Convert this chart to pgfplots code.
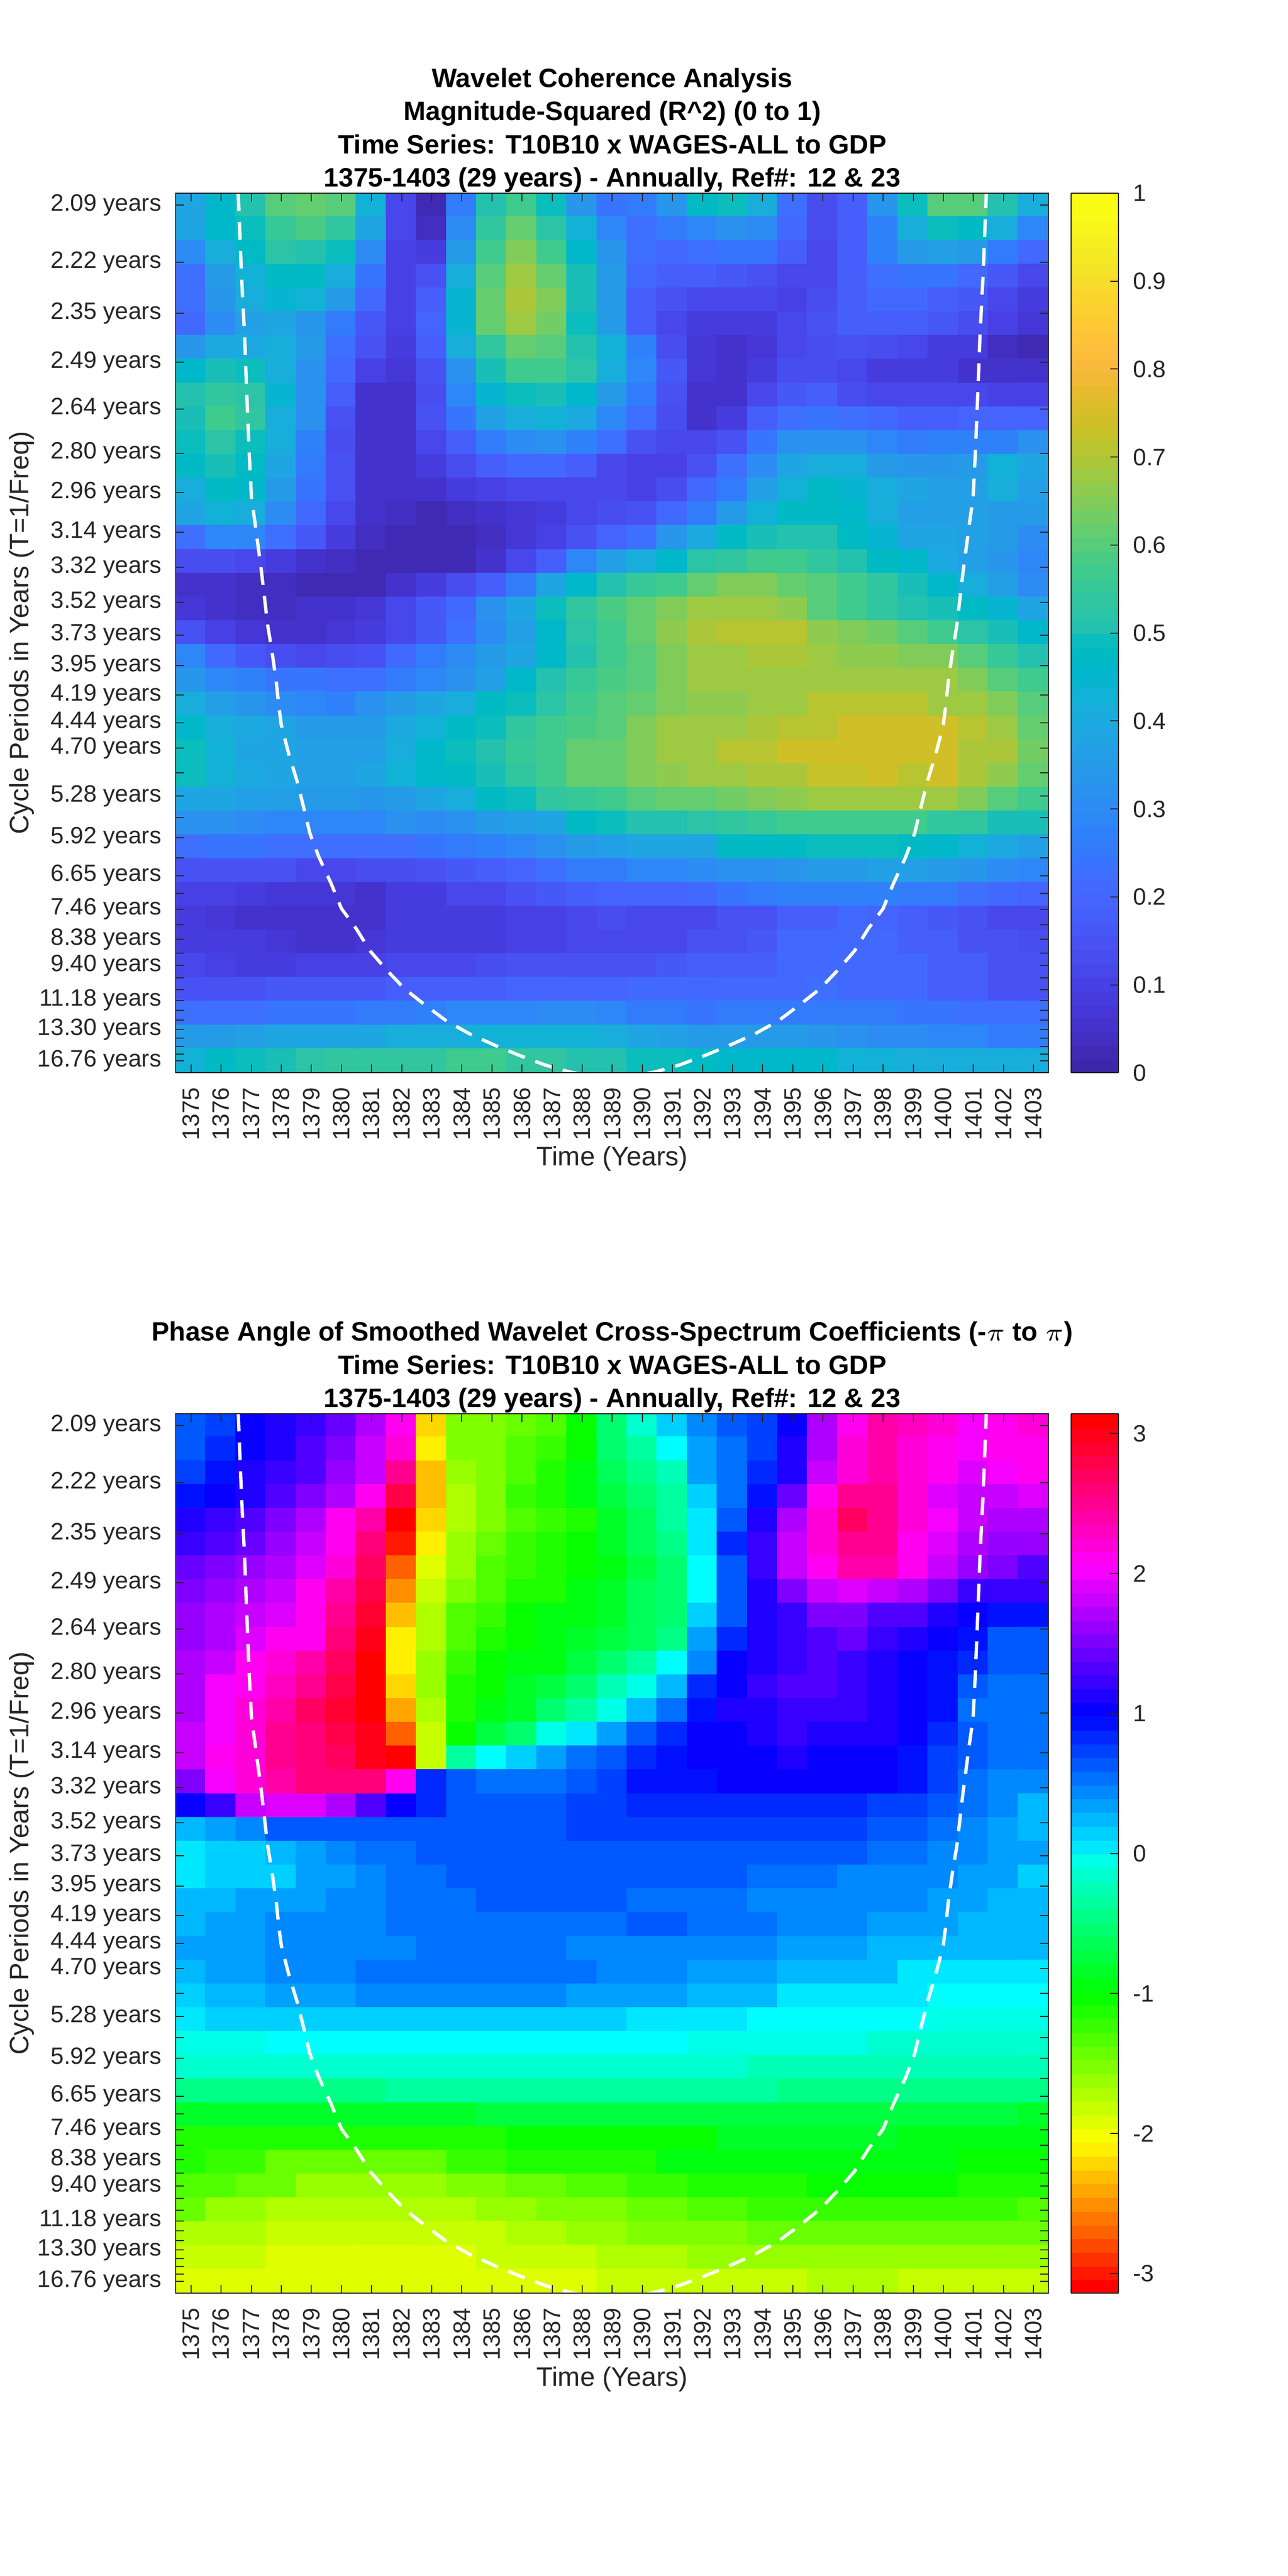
\documentclass[border=0pt]{standalone}
\usepackage{fontspec}
\setmainfont{Liberation Sans}
\usepackage{pgfplots}
\usepackage{pgfplotstable}
\pgfplotsset{compat=1.18}
\definecolor{axgray}{rgb}{0.15,0.15,0.15}

% magnitude-squared coherence, one line per period (2.09 ... 16.76), 1375 ... 1403
\pgfplotstableread[row sep=\\,header=false]{
0.38\\0.46\\0.52\\0.60\\0.63\\0.60\\0.42\\0.12\\0.03\\0.26\\0.52\\0.57\\0.48\\0.33\\0.24\\0.25\\0.33\\0.47\\0.48\\0.40\\0.22\\0.13\\0.17\\0.33\\0.48\\0.60\\0.60\\0.52\\0.40\\
0.37\\0.45\\0.49\\0.56\\0.59\\0.54\\0.37\\0.11\\0.04\\0.30\\0.55\\0.63\\0.53\\0.42\\0.28\\0.22\\0.25\\0.29\\0.32\\0.30\\0.20\\0.13\\0.17\\0.27\\0.40\\0.49\\0.47\\0.40\\0.29\\
0.30\\0.40\\0.47\\0.53\\0.52\\0.48\\0.30\\0.10\\0.08\\0.34\\0.58\\0.66\\0.58\\0.46\\0.33\\0.22\\0.21\\0.22\\0.24\\0.24\\0.17\\0.12\\0.17\\0.27\\0.34\\0.36\\0.34\\0.26\\0.20\\
0.23\\0.35\\0.43\\0.47\\0.47\\0.40\\0.24\\0.10\\0.15\\0.40\\0.60\\0.68\\0.63\\0.50\\0.35\\0.20\\0.17\\0.17\\0.16\\0.15\\0.12\\0.11\\0.18\\0.22\\0.24\\0.24\\0.20\\0.16\\0.12\\
0.22\\0.33\\0.40\\0.44\\0.42\\0.35\\0.21\\0.10\\0.17\\0.44\\0.62\\0.70\\0.65\\0.50\\0.34\\0.18\\0.14\\0.11\\0.11\\0.11\\0.10\\0.13\\0.18\\0.20\\0.20\\0.18\\0.16\\0.12\\0.09\\
0.21\\0.30\\0.36\\0.37\\0.33\\0.26\\0.16\\0.10\\0.19\\0.44\\0.62\\0.68\\0.64\\0.49\\0.34\\0.17\\0.11\\0.09\\0.08\\0.09\\0.11\\0.14\\0.18\\0.18\\0.17\\0.16\\0.13\\0.10\\0.07\\
0.33\\0.39\\0.39\\0.40\\0.34\\0.22\\0.14\\0.09\\0.18\\0.41\\0.55\\0.63\\0.60\\0.52\\0.42\\0.27\\0.13\\0.07\\0.06\\0.07\\0.11\\0.13\\0.15\\0.13\\0.12\\0.09\\0.08\\0.04\\0.02\\
0.46\\0.50\\0.49\\0.41\\0.32\\0.21\\0.10\\0.07\\0.15\\0.32\\0.50\\0.57\\0.57\\0.53\\0.40\\0.28\\0.16\\0.07\\0.05\\0.08\\0.13\\0.13\\0.12\\0.09\\0.09\\0.09\\0.06\\0.05\\0.05\\
0.51\\0.54\\0.53\\0.44\\0.31\\0.17\\0.06\\0.06\\0.13\\0.28\\0.44\\0.49\\0.50\\0.45\\0.34\\0.25\\0.14\\0.05\\0.05\\0.11\\0.16\\0.17\\0.13\\0.12\\0.12\\0.12\\0.12\\0.10\\0.10\\
0.50\\0.57\\0.54\\0.41\\0.31\\0.15\\0.06\\0.05\\0.14\\0.24\\0.36\\0.41\\0.42\\0.39\\0.29\\0.23\\0.13\\0.06\\0.09\\0.17\\0.23\\0.24\\0.23\\0.20\\0.18\\0.17\\0.19\\0.19\\0.19\\
0.48\\0.53\\0.48\\0.40\\0.27\\0.13\\0.05\\0.05\\0.11\\0.18\\0.26\\0.30\\0.31\\0.27\\0.22\\0.14\\0.11\\0.11\\0.15\\0.24\\0.31\\0.32\\0.31\\0.28\\0.25\\0.27\\0.27\\0.27\\0.31\\
0.47\\0.50\\0.47\\0.38\\0.26\\0.14\\0.05\\0.05\\0.08\\0.13\\0.18\\0.20\\0.20\\0.17\\0.12\\0.10\\0.10\\0.14\\0.22\\0.30\\0.38\\0.41\\0.40\\0.35\\0.33\\0.33\\0.34\\0.42\\0.38\\
0.41\\0.47\\0.45\\0.34\\0.24\\0.14\\0.06\\0.06\\0.06\\0.08\\0.10\\0.11\\0.12\\0.12\\0.12\\0.10\\0.13\\0.20\\0.26\\0.36\\0.43\\0.47\\0.44\\0.40\\0.38\\0.36\\0.36\\0.40\\0.36\\
0.37\\0.42\\0.40\\0.30\\0.21\\0.12\\0.05\\0.04\\0.03\\0.04\\0.05\\0.07\\0.09\\0.12\\0.13\\0.15\\0.21\\0.26\\0.34\\0.42\\0.47\\0.47\\0.45\\0.41\\0.36\\0.36\\0.36\\0.35\\0.34\\
0.23\\0.29\\0.28\\0.22\\0.16\\0.09\\0.04\\0.02\\0.02\\0.02\\0.04\\0.07\\0.10\\0.14\\0.19\\0.23\\0.33\\0.39\\0.47\\0.50\\0.52\\0.52\\0.47\\0.44\\0.38\\0.37\\0.36\\0.34\\0.30\\
0.13\\0.13\\0.12\\0.08\\0.05\\0.04\\0.02\\0.02\\0.02\\0.03\\0.05\\0.11\\0.18\\0.29\\0.36\\0.40\\0.46\\0.53\\0.55\\0.58\\0.58\\0.55\\0.52\\0.47\\0.45\\0.39\\0.36\\0.33\\0.28\\
0.06\\0.05\\0.04\\0.04\\0.02\\0.02\\0.03\\0.05\\0.08\\0.13\\0.18\\0.25\\0.37\\0.46\\0.52\\0.56\\0.58\\0.63\\0.66\\0.66\\0.62\\0.60\\0.57\\0.54\\0.50\\0.46\\0.40\\0.36\\0.30\\
0.07\\0.05\\0.04\\0.04\\0.05\\0.06\\0.07\\0.12\\0.16\\0.21\\0.31\\0.38\\0.48\\0.54\\0.59\\0.62\\0.66\\0.69\\0.69\\0.68\\0.67\\0.61\\0.58\\0.54\\0.52\\0.50\\0.47\\0.44\\0.38\\
0.14\\0.10\\0.07\\0.05\\0.05\\0.07\\0.08\\0.11\\0.16\\0.23\\0.30\\0.36\\0.46\\0.53\\0.58\\0.62\\0.67\\0.70\\0.71\\0.71\\0.71\\0.67\\0.66\\0.64\\0.60\\0.57\\0.53\\0.50\\0.45\\
0.28\\0.20\\0.16\\0.13\\0.12\\0.13\\0.15\\0.20\\0.25\\0.30\\0.34\\0.38\\0.46\\0.52\\0.57\\0.60\\0.66\\0.68\\0.68\\0.70\\0.70\\0.69\\0.67\\0.67\\0.66\\0.65\\0.60\\0.56\\0.52\\
0.33\\0.29\\0.27\\0.24\\0.24\\0.23\\0.22\\0.26\\0.29\\0.32\\0.36\\0.46\\0.52\\0.56\\0.59\\0.60\\0.65\\0.68\\0.69\\0.69\\0.69\\0.68\\0.68\\0.68\\0.68\\0.68\\0.66\\0.60\\0.57\\
0.40\\0.36\\0.33\\0.30\\0.28\\0.27\\0.32\\0.35\\0.37\\0.41\\0.47\\0.49\\0.53\\0.58\\0.60\\0.63\\0.66\\0.67\\0.67\\0.68\\0.68\\0.71\\0.71\\0.72\\0.72\\0.69\\0.68\\0.66\\0.60\\
0.45\\0.41\\0.39\\0.37\\0.35\\0.34\\0.34\\0.39\\0.42\\0.47\\0.49\\0.54\\0.57\\0.59\\0.61\\0.65\\0.68\\0.68\\0.69\\0.70\\0.72\\0.72\\0.74\\0.74\\0.74\\0.74\\0.71\\0.69\\0.63\\
0.49\\0.42\\0.38\\0.37\\0.36\\0.36\\0.36\\0.41\\0.45\\0.48\\0.52\\0.56\\0.58\\0.62\\0.63\\0.66\\0.68\\0.69\\0.71\\0.72\\0.74\\0.74\\0.75\\0.75\\0.75\\0.75\\0.70\\0.70\\0.64\\
0.49\\0.42\\0.39\\0.37\\0.36\\0.36\\0.38\\0.42\\0.45\\0.47\\0.50\\0.55\\0.58\\0.62\\0.62\\0.66\\0.67\\0.68\\0.69\\0.70\\0.70\\0.73\\0.73\\0.75\\0.72\\0.74\\0.70\\0.67\\0.63\\
0.38\\0.37\\0.36\\0.36\\0.35\\0.34\\0.33\\0.35\\0.37\\0.40\\0.47\\0.49\\0.54\\0.56\\0.58\\0.60\\0.62\\0.62\\0.64\\0.66\\0.67\\0.68\\0.69\\0.69\\0.69\\0.68\\0.66\\0.60\\0.57\\
0.32\\0.31\\0.30\\0.29\\0.29\\0.29\\0.29\\0.31\\0.30\\0.32\\0.35\\0.36\\0.38\\0.47\\0.49\\0.51\\0.52\\0.53\\0.55\\0.56\\0.58\\0.58\\0.58\\0.58\\0.57\\0.55\\0.54\\0.50\\0.50\\
0.23\\0.24\\0.24\\0.22\\0.22\\0.22\\0.23\\0.23\\0.24\\0.26\\0.27\\0.28\\0.31\\0.34\\0.36\\0.37\\0.37\\0.38\\0.47\\0.47\\0.47\\0.48\\0.49\\0.49\\0.47\\0.46\\0.42\\0.39\\0.36\\
0.15\\0.14\\0.14\\0.14\\0.12\\0.12\\0.13\\0.13\\0.15\\0.16\\0.17\\0.19\\0.22\\0.25\\0.26\\0.28\\0.29\\0.30\\0.31\\0.32\\0.33\\0.34\\0.35\\0.36\\0.36\\0.35\\0.33\\0.30\\0.28\\
0.10\\0.10\\0.08\\0.07\\0.07\\0.07\\0.06\\0.08\\0.08\\0.11\\0.12\\0.14\\0.16\\0.18\\0.19\\0.19\\0.19\\0.21\\0.24\\0.26\\0.27\\0.27\\0.27\\0.27\\0.26\\0.25\\0.23\\0.21\\0.19\\
0.09\\0.07\\0.06\\0.06\\0.05\\0.05\\0.06\\0.08\\0.09\\0.09\\0.09\\0.10\\0.10\\0.12\\0.13\\0.12\\0.11\\0.12\\0.14\\0.15\\0.18\\0.18\\0.20\\0.19\\0.18\\0.16\\0.14\\0.12\\0.11\\
0.09\\0.08\\0.08\\0.07\\0.06\\0.06\\0.07\\0.08\\0.09\\0.09\\0.09\\0.10\\0.10\\0.11\\0.11\\0.12\\0.11\\0.14\\0.15\\0.16\\0.20\\0.20\\0.20\\0.20\\0.18\\0.17\\0.15\\0.14\\0.13\\
0.11\\0.10\\0.09\\0.09\\0.10\\0.10\\0.10\\0.11\\0.12\\0.12\\0.13\\0.14\\0.14\\0.14\\0.15\\0.15\\0.16\\0.17\\0.17\\0.17\\0.20\\0.20\\0.20\\0.20\\0.20\\0.18\\0.17\\0.14\\0.14\\
0.14\\0.14\\0.14\\0.16\\0.16\\0.16\\0.16\\0.17\\0.18\\0.18\\0.18\\0.19\\0.19\\0.19\\0.19\\0.20\\0.20\\0.21\\0.21\\0.21\\0.21\\0.22\\0.21\\0.21\\0.21\\0.18\\0.17\\0.15\\0.15\\
0.22\\0.22\\0.23\\0.24\\0.24\\0.24\\0.25\\0.26\\0.27\\0.28\\0.29\\0.29\\0.30\\0.30\\0.28\\0.26\\0.25\\0.24\\0.25\\0.25\\0.26\\0.26\\0.26\\0.25\\0.24\\0.24\\0.23\\0.22\\0.22\\
0.34\\0.35\\0.36\\0.38\\0.38\\0.38\\0.38\\0.40\\0.41\\0.41\\0.42\\0.42\\0.42\\0.42\\0.41\\0.38\\0.36\\0.35\\0.35\\0.35\\0.34\\0.33\\0.31\\0.30\\0.30\\0.29\\0.29\\0.26\\0.26\\
0.43\\0.47\\0.48\\0.50\\0.53\\0.55\\0.55\\0.55\\0.55\\0.57\\0.57\\0.55\\0.54\\0.52\\0.52\\0.49\\0.49\\0.47\\0.46\\0.46\\0.46\\0.45\\0.43\\0.42\\0.41\\0.40\\0.40\\0.40\\0.40\\
}\coherence

% phase angle, same layout
\pgfplotstableread[row sep=\\,header=false]{
0.63\\0.80\\1.05\\1.20\\1.27\\1.46\\1.75\\2.09\\-2.20\\-1.57\\-1.57\\-1.46\\-1.36\\-1.05\\-0.62\\-0.20\\0.23\\0.47\\0.63\\0.80\\1.05\\1.75\\2.15\\2.45\\2.33\\2.20\\2.05\\2.15\\2.20\\
0.66\\0.84\\1.05\\1.20\\1.33\\1.55\\1.82\\2.20\\-2.09\\-1.57\\-1.50\\-1.40\\-1.30\\-1.05\\-0.60\\-0.36\\0.00\\0.37\\0.60\\0.77\\1.12\\1.72\\2.20\\2.38\\2.25\\2.15\\2.00\\2.10\\2.15\\
0.80\\0.97\\1.13\\1.25\\1.40\\1.60\\1.88\\2.55\\-2.30\\-1.62\\-1.55\\-1.35\\-1.20\\-1.00\\-0.70\\-0.45\\-0.28\\0.40\\0.62\\0.90\\1.20\\1.85\\2.20\\2.38\\2.25\\2.10\\1.95\\2.00\\2.10\\
1.00\\1.05\\1.20\\1.38\\1.55\\1.75\\2.15\\2.85\\-2.30\\-1.76\\-1.55\\-1.30\\-1.20\\-0.95\\-0.75\\-0.55\\-0.35\\0.22\\0.58\\1.00\\1.45\\2.15\\2.55\\2.55\\2.20\\1.95\\1.85\\1.85\\1.95\\
1.17\\1.27\\1.40\\1.55\\1.75\\2.10\\2.45\\3.14\\-2.25\\-1.76\\-1.50\\-1.35\\-1.25\\-1.15\\-0.85\\-0.65\\-0.40\\0.12\\0.72\\1.20\\1.75\\2.25\\2.72\\2.50\\2.20\\2.00\\1.80\\1.75\\1.75\\
1.30\\1.37\\1.45\\1.65\\1.80\\2.10\\2.65\\-3.00\\-2.10\\-1.65\\-1.45\\-1.30\\-1.20\\-1.05\\-0.90\\-0.65\\-0.50\\0.12\\0.85\\1.30\\1.80\\2.20\\2.55\\2.55\\2.15\\1.95\\1.70\\1.60\\1.65\\
1.45\\1.50\\1.60\\1.72\\1.95\\2.25\\2.75\\-2.74\\-1.95\\-1.60\\-1.40\\-1.30\\-1.20\\-1.10\\-0.95\\-0.75\\-0.60\\0.00\\0.65\\1.30\\1.85\\2.15\\2.45\\2.40\\2.15\\1.85\\1.60\\1.50\\1.35\\
1.55\\1.60\\1.70\\1.80\\2.10\\2.40\\2.80\\-2.55\\-1.85\\-1.55\\-1.35\\-1.20\\-1.15\\-1.00\\-0.90\\-0.70\\-0.62\\0.00\\0.65\\1.20\\1.55\\1.82\\1.98\\1.85\\1.75\\1.50\\1.30\\1.25\\1.25\\
1.60\\1.72\\1.85\\1.95\\2.15\\2.55\\2.90\\-2.35\\-1.72\\-1.40\\-1.25\\-1.10\\-1.00\\-0.92\\-0.85\\-0.70\\-0.55\\0.15\\0.65\\1.15\\1.30\\1.50\\1.55\\1.40\\1.35\\1.15\\1.05\\1.00\\1.00\\
1.60\\1.75\\1.92\\2.09\\2.15\\2.60\\3.00\\-2.15\\-1.72\\-1.33\\-1.15\\-1.05\\-1.00\\-0.90\\-0.80\\-0.70\\-0.45\\0.37\\0.85\\1.15\\1.30\\1.40\\1.42\\1.30\\1.20\\1.03\\0.95\\0.72\\0.72\\
1.75\\1.85\\2.09\\2.25\\2.45\\2.75\\3.05\\-2.10\\-1.66\\-1.25\\-1.10\\-1.00\\-0.95\\-0.75\\-0.55\\-0.35\\0.00\\0.48\\1.05\\1.18\\1.25\\1.35\\1.25\\1.17\\1.07\\0.95\\0.85\\0.65\\0.65\\
1.78\\2.00\\2.15\\2.35\\2.55\\2.85\\3.14\\-2.20\\-1.60\\-1.20\\-1.05\\-0.90\\-0.80\\-0.55\\-0.25\\-0.10\\0.33\\0.85\\1.05\\1.30\\1.35\\1.38\\1.27\\1.20\\1.05\\0.95\\0.63\\0.60\\0.60\\
1.78\\2.00\\2.20\\2.45\\2.70\\2.90\\3.10\\-2.45\\-1.70\\-1.12\\-1.00\\-0.85\\-0.60\\-0.35\\-0.05\\0.32\\0.62\\1.00\\1.12\\1.20\\1.28\\1.28\\1.25\\1.20\\1.05\\0.95\\0.62\\0.60\\0.60\\
1.80\\2.00\\2.25\\2.50\\2.65\\2.80\\3.00\\-2.74\\-1.85\\-1.05\\-0.80\\-0.55\\-0.10\\0.10\\0.35\\0.70\\0.85\\1.10\\1.10\\1.20\\1.22\\1.20\\1.17\\1.15\\1.05\\0.85\\0.67\\0.60\\0.60\\
1.80\\2.10\\2.25\\2.55\\2.60\\2.75\\2.95\\3.05\\-1.85\\-0.40\\-0.02\\0.20\\0.40\\0.55\\0.70\\0.85\\0.95\\1.05\\1.10\\1.10\\1.20\\1.10\\1.07\\1.05\\1.00\\0.80\\0.65\\0.60\\0.60\\
1.55\\2.05\\2.20\\2.40\\2.60\\2.65\\2.65\\2.10\\0.90\\0.65\\0.55\\0.55\\0.60\\0.70\\0.82\\0.95\\0.97\\0.97\\1.03\\1.03\\1.05\\1.03\\1.03\\1.03\\0.95\\0.80\\0.58\\0.50\\0.50\\
1.05\\1.30\\1.80\\1.98\\1.98\\1.75\\1.40\\1.05\\0.85\\0.72\\0.72\\0.72\\0.72\\0.78\\0.78\\0.85\\0.87\\0.90\\0.90\\0.90\\0.90\\0.90\\0.90\\0.78\\0.78\\0.72\\0.60\\0.50\\0.33\\
0.32\\0.42\\0.50\\0.63\\0.72\\0.72\\0.72\\0.72\\0.72\\0.72\\0.72\\0.72\\0.72\\0.78\\0.78\\0.78\\0.78\\0.78\\0.78\\0.78\\0.78\\0.78\\0.78\\0.70\\0.70\\0.60\\0.50\\0.42\\0.30\\
0.12\\0.20\\0.20\\0.25\\0.35\\0.45\\0.60\\0.60\\0.72\\0.72\\0.72\\0.72\\0.72\\0.72\\0.72\\0.72\\0.72\\0.72\\0.72\\0.72\\0.72\\0.72\\0.72\\0.62\\0.62\\0.52\\0.45\\0.37\\0.37\\
0.12\\0.20\\0.20\\0.22\\0.38\\0.38\\0.52\\0.62\\0.62\\0.72\\0.72\\0.72\\0.72\\0.72\\0.72\\0.72\\0.72\\0.72\\0.72\\0.62\\0.62\\0.62\\0.52\\0.52\\0.52\\0.48\\0.42\\0.38\\0.20\\
0.25\\0.25\\0.35\\0.35\\0.42\\0.52\\0.52\\0.62\\0.62\\0.62\\0.72\\0.72\\0.72\\0.72\\0.72\\0.62\\0.62\\0.62\\0.62\\0.52\\0.52\\0.52\\0.45\\0.45\\0.45\\0.38\\0.38\\0.30\\0.25\\
0.25\\0.38\\0.38\\0.50\\0.50\\0.52\\0.52\\0.62\\0.62\\0.62\\0.62\\0.62\\0.62\\0.62\\0.62\\0.65\\0.68\\0.55\\0.55\\0.55\\0.45\\0.45\\0.45\\0.36\\0.36\\0.36\\0.27\\0.27\\0.27\\
0.38\\0.38\\0.38\\0.45\\0.45\\0.52\\0.52\\0.52\\0.62\\0.62\\0.62\\0.62\\0.62\\0.52\\0.52\\0.52\\0.52\\0.50\\0.50\\0.50\\0.40\\0.40\\0.40\\0.27\\0.27\\0.27\\0.27\\0.27\\0.27\\
0.33\\0.38\\0.38\\0.48\\0.48\\0.48\\0.55\\0.55\\0.55\\0.55\\0.55\\0.55\\0.55\\0.55\\0.45\\0.45\\0.45\\0.40\\0.40\\0.40\\0.25\\0.25\\0.25\\0.25\\0.12\\0.12\\0.12\\0.12\\0.12\\
0.22\\0.30\\0.30\\0.42\\0.42\\0.42\\0.50\\0.50\\0.50\\0.50\\0.50\\0.50\\0.50\\0.42\\0.42\\0.42\\0.42\\0.32\\0.32\\0.32\\0.10\\0.10\\0.10\\0.10\\0.10\\0.00\\0.00\\0.00\\0.00\\
0.05\\0.17\\0.17\\0.17\\0.22\\0.22\\0.22\\0.22\\0.22\\0.22\\0.22\\0.22\\0.22\\0.22\\0.22\\0.12\\0.12\\0.12\\0.12\\0.00\\0.00\\0.00\\0.00\\0.00\\0.00\\-0.12\\-0.12\\-0.12\\-0.12\\
-0.10\\-0.10\\-0.10\\0.00\\0.00\\0.00\\0.00\\0.00\\0.00\\0.00\\0.00\\0.00\\0.00\\0.00\\0.00\\0.00\\0.00\\-0.10\\-0.10\\-0.10\\-0.10\\-0.10\\-0.10\\-0.20\\-0.20\\-0.20\\-0.20\\-0.20\\-0.20\\
-0.20\\-0.20\\-0.20\\-0.15\\-0.15\\-0.15\\-0.15\\-0.15\\-0.15\\-0.15\\-0.15\\-0.15\\-0.15\\-0.15\\-0.15\\-0.15\\-0.18\\-0.18\\-0.18\\-0.30\\-0.30\\-0.30\\-0.30\\-0.30\\-0.30\\-0.30\\-0.30\\-0.30\\-0.30\\
-0.50\\-0.50\\-0.50\\-0.50\\-0.50\\-0.50\\-0.50\\-0.43\\-0.43\\-0.43\\-0.43\\-0.43\\-0.43\\-0.43\\-0.43\\-0.43\\-0.43\\-0.43\\-0.43\\-0.43\\-0.52\\-0.52\\-0.52\\-0.52\\-0.52\\-0.52\\-0.52\\-0.52\\-0.52\\
-0.85\\-0.85\\-0.85\\-0.85\\-0.85\\-0.85\\-0.85\\-0.85\\-0.85\\-0.85\\-0.78\\-0.78\\-0.78\\-0.78\\-0.78\\-0.78\\-0.76\\-0.76\\-0.76\\-0.76\\-0.76\\-0.76\\-0.76\\-0.76\\-0.76\\-0.76\\-0.76\\-0.76\\-0.85\\
-1.18\\-1.20\\-1.20\\-1.20\\-1.20\\-1.20\\-1.20\\-1.20\\-1.12\\-1.12\\-1.12\\-1.05\\-1.05\\-1.05\\-1.05\\-1.05\\-1.02\\-1.02\\-0.90\\-0.90\\-0.90\\-0.90\\-0.90\\-0.90\\-0.98\\-0.98\\-0.98\\-0.98\\-0.98\\
-1.18\\-1.30\\-1.30\\-1.42\\-1.42\\-1.42\\-1.42\\-1.42\\-1.42\\-1.30\\-1.30\\-1.20\\-1.20\\-1.12\\-1.12\\-1.12\\-1.00\\-1.00\\-1.00\\-1.00\\-1.00\\-1.00\\-1.00\\-1.00\\-1.00\\-1.00\\-1.02\\-1.02\\-1.02\\
-1.37\\-1.37\\-1.47\\-1.47\\-1.62\\-1.62\\-1.62\\-1.62\\-1.62\\-1.52\\-1.52\\-1.42\\-1.42\\-1.33\\-1.33\\-1.22\\-1.22\\-1.15\\-1.15\\-1.15\\-1.15\\-1.05\\-1.05\\-1.05\\-1.05\\-1.05\\-1.12\\-1.12\\-1.12\\
-1.42\\-1.60\\-1.60\\-1.75\\-1.75\\-1.75\\-1.75\\-1.75\\-1.75\\-1.75\\-1.60\\-1.60\\-1.52\\-1.52\\-1.52\\-1.42\\-1.42\\-1.33\\-1.33\\-1.22\\-1.22\\-1.22\\-1.22\\-1.22\\-1.22\\-1.22\\-1.22\\-1.22\\-1.40\\
-1.70\\-1.70\\-1.70\\-1.85\\-1.85\\-1.85\\-1.85\\-1.85\\-1.85\\-1.85\\-1.85\\-1.75\\-1.75\\-1.62\\-1.62\\-1.55\\-1.55\\-1.55\\-1.55\\-1.42\\-1.42\\-1.42\\-1.42\\-1.42\\-1.42\\-1.42\\-1.42\\-1.42\\-1.42\\
-1.80\\-1.80\\-1.80\\-1.97\\-1.97\\-1.97\\-1.97\\-1.97\\-1.97\\-1.97\\-1.82\\-1.82\\-1.82\\-1.82\\-1.73\\-1.73\\-1.78\\-1.62\\-1.62\\-1.62\\-1.62\\-1.62\\-1.62\\-1.62\\-1.62\\-1.62\\-1.62\\-1.62\\-1.62\\
-1.97\\-1.97\\-1.97\\-1.97\\-1.97\\-1.97\\-1.97\\-1.97\\-1.97\\-1.97\\-1.97\\-1.97\\-1.97\\-1.97\\-1.85\\-1.85\\-1.86\\-1.86\\-1.86\\-1.86\\-1.86\\-1.75\\-1.75\\-1.75\\-1.80\\-1.80\\-1.80\\-1.80\\-1.80\\
}\phaseangle

% cone of influence
\pgfplotstableread{
x f
1376.57 0.4843
1376.68 0.4436
1376.78 0.4148
1376.85 0.3877
1376.94 0.3553
1377.01 0.3355
1377.13 0.3228
1377.34 0.2994
1377.55 0.2728
1377.69 0.2603
1377.83 0.2458
1377.92 0.2333
1378.00 0.2242
1378.25 0.2099
1378.53 0.1964
1378.76 0.1829
1378.95 0.1712
1379.25 0.1595
1379.65 0.1468
1380.00 0.1343
1380.49 0.1245
1380.95 0.1136
1381.51 0.1041
1382.10 0.0950
1382.79 0.0870
1383.49 0.0793
1384.26 0.0730
1385.10 0.0674
1385.94 0.0623
1386.78 0.0577
1387.55 0.0545
1389.00 0.0500
1390.45 0.0545
1391.22 0.0577
1392.06 0.0623
1392.90 0.0674
1393.74 0.0730
1394.51 0.0793
1395.21 0.0870
1395.90 0.0950
1396.49 0.1041
1397.05 0.1136
1397.51 0.1245
1398.00 0.1343
1398.35 0.1468
1398.75 0.1595
1399.05 0.1712
1399.24 0.1829
1399.47 0.1964
1399.75 0.2099
1400.00 0.2242
1400.08 0.2333
1400.17 0.2458
1400.31 0.2603
1400.45 0.2728
1400.66 0.2994
1400.87 0.3228
1400.99 0.3355
1401.06 0.3553
1401.15 0.3877
1401.22 0.4148
1401.32 0.4436
1401.43 0.4843
}\coi

\pgfplotsset{
  colormap={parula64}{
    rgb=(0.2422,0.1504,0.6603) rgb=(0.2504,0.1650,0.7076) rgb=(0.2578,0.1818,0.7511) rgb=(0.2647,0.1978,0.7952)
    rgb=(0.2706,0.2147,0.8364) rgb=(0.2751,0.2342,0.8710) rgb=(0.2783,0.2559,0.8991) rgb=(0.2803,0.2782,0.9221)
    rgb=(0.2813,0.3006,0.9414) rgb=(0.2810,0.3228,0.9579) rgb=(0.2795,0.3447,0.9717) rgb=(0.2760,0.3667,0.9829)
    rgb=(0.2699,0.3892,0.9906) rgb=(0.2602,0.4123,0.9952) rgb=(0.2440,0.4358,0.9988) rgb=(0.2206,0.4603,0.9973)
    rgb=(0.1963,0.4847,0.9892) rgb=(0.1834,0.5074,0.9798) rgb=(0.1786,0.5289,0.9682) rgb=(0.1764,0.5499,0.9520)
    rgb=(0.1687,0.5703,0.9359) rgb=(0.1540,0.5902,0.9218) rgb=(0.1460,0.6091,0.9079) rgb=(0.1380,0.6276,0.8973)
    rgb=(0.1248,0.6459,0.8883) rgb=(0.1113,0.6635,0.8763) rgb=(0.0952,0.6798,0.8598) rgb=(0.0689,0.6948,0.8394)
    rgb=(0.0297,0.7082,0.8163) rgb=(0.0036,0.7203,0.7917) rgb=(0.0067,0.7312,0.7660) rgb=(0.0433,0.7411,0.7394)
    rgb=(0.0964,0.7500,0.7120) rgb=(0.1408,0.7584,0.6842) rgb=(0.1717,0.7670,0.6554) rgb=(0.1938,0.7758,0.6251)
    rgb=(0.2161,0.7843,0.5923) rgb=(0.2470,0.7918,0.5567) rgb=(0.2906,0.7973,0.5188) rgb=(0.3406,0.8008,0.4789)
    rgb=(0.3909,0.8029,0.4354) rgb=(0.4456,0.8024,0.3909) rgb=(0.5044,0.7993,0.3480) rgb=(0.5616,0.7942,0.3045)
    rgb=(0.6174,0.7876,0.2612) rgb=(0.6720,0.7793,0.2227) rgb=(0.7242,0.7698,0.1910) rgb=(0.7738,0.7598,0.1646)
    rgb=(0.8203,0.7498,0.1535) rgb=(0.8634,0.7406,0.1596) rgb=(0.9035,0.7330,0.1774) rgb=(0.9393,0.7288,0.2100)
    rgb=(0.9728,0.7298,0.2394) rgb=(0.9956,0.7434,0.2371) rgb=(0.9970,0.7659,0.2199) rgb=(0.9952,0.7893,0.2028)
    rgb=(0.9892,0.8136,0.1885) rgb=(0.9786,0.8386,0.1766) rgb=(0.9676,0.8639,0.1643) rgb=(0.9610,0.8890,0.1537)
    rgb=(0.9597,0.9135,0.1423) rgb=(0.9628,0.9373,0.1265) rgb=(0.9691,0.9606,0.1064) rgb=(0.9769,0.9839,0.0805)
    rgb=(0.9769,0.9839,0.0805)
  },
  colormap={hsvbase}{rgb255=(255,0,0) rgb255=(255,255,0) rgb255=(0,255,0) rgb255=(0,255,255) rgb255=(0,0,255) rgb255=(255,0,255) rgb255=(255,0,0)},
  colormap={hsv64}{samples of colormap=(65 of hsvbase)},
  wavelet/.style={
    at={(42.7pt,#1)}, anchor=south west,
    scale only axis, width=211.8pt, height=213.5pt,
    xmin=1374.5, xmax=1403.5, ymin=0.0539, ymax=0.4843,
    axis on top, tick align=inside, major tick length=2pt,
    axis line style={axgray, line width=0.25pt},
    every tick/.style={axgray, line width=0.25pt},
    tick label style={font=\fontsize{5.75}{6.2}\selectfont, text=axgray},
    label style={font=\fontsize{6.5}{7.5}\selectfont, text=axgray},
    /pgf/number format/1000 sep={},
    /pgf/number format/assume math mode=true,
    xtick={1375,1376,...,1403},
    xticklabel style={rotate=90, anchor=east},
    ytick={0.4785,0.4505,0.4255,0.4016,0.3788,0.3571,0.3378,0.3185,0.3012,0.2841,0.2681,0.2532,0.2387,0.2252,0.2128,0.2008,0.1894,0.1789,0.1689,0.1592,0.1504,0.1418,0.1340,0.1264,0.1193,0.1126,0.1064,0.1004,0.0947,0.0894,0.0844,0.0797,0.0752,0.0710,0.0670,0.0632,0.0597},
    yticklabels={2.09 years,2.22 years,2.35 years,2.49 years,2.64 years,2.80 years,2.96 years,3.14 years,3.32 years,3.52 years,3.73 years,3.95 years,4.19 years,4.44 years,4.70 years,,5.28 years,,5.92 years,,6.65 years,,7.46 years,,8.38 years,,9.40 years,,,11.18 years,,,13.30 years,,,,16.76 years},
    xlabel={Time (Years)}, ylabel={Cycle Periods in Years (T=1/Freq)},
    xlabel style={at={(axis description cs:0.5,-0.0974)}, anchor=center},
    ylabel style={at={(axis description cs:-0.177,0.5)}, anchor=center},
    title style={at={(axis description cs:0.5,1)}, anchor=south, align=center, inner sep=0pt, yshift=-6pt,
      font=\fontsize{6.45}{8.05}\selectfont\bfseries},
    colormap access=piecewise constant,
    colorbar sampled,
    colorbar shift/.style={xshift=5.4pt},
    colorbar style={
      at={(parent axis.north east)}, anchor=north west,
      samples=65, scale only axis, width=11.6pt, height=213.5pt,
      axis line style={axgray, line width=0.25pt},
      tick align=inside, major tick length=2pt, xtick=\empty,
      yticklabel pos=right, ytick pos=right,
      every tick/.style={axgray, line width=0.25pt},
      yticklabel style={font=\fontsize{5.75}{6.2}\selectfont, text=axgray},
      /pgf/number format/assume math mode=true,
    },
  },
  heat/.style={matrix plot*, mesh/cols=29, point meta=explicit},
  table/rows from index/.style={
    x index=0, y index=0,
    x expr={1375+mod(\coordindex,29)},
    y expr={0.4785-0.011633*(\coordindex-mod(\coordindex,29))/29},
    meta index=0,
  },
  coi line/.style={white, line width=0.8pt, dash pattern=on 4.3pt off 2.7pt},
}

\begin{document}
\begin{tikzpicture}
\path[use as bounding box] (0,0) rectangle (312.5pt,625.2pt);

\begin{axis}[
  wavelet=364.8pt,
  colormap name=parula64,
  point meta min=0, point meta max=1,
  colorbar style={ytick={0,0.1,0.2,0.3,0.4,0.5,0.6,0.7,0.8,0.9,1}},
  title={Wavelet Coherence Analysis\\Magnitude-Squared (R\^{}2) (0 to 1)\\Time Series: T10B10 x WAGES-ALL to GDP\\1375-1403 (29 years) - Annually, Ref\#: 12 \& 23},
]
\addplot[heat] table[rows from index] {\coherence};
\addplot[coi line] table[x=x, y=f] {\coi};
\end{axis}

\begin{axis}[
  wavelet=68.6pt,
  colormap name=hsv64,
  point meta min=-3.1416, point meta max=3.1416,
  colorbar style={ytick={-3,-2,-1,0,1,2,3}},
  title={Phase Angle of Smoothed Wavelet Cross-Spectrum Coefficients (-$\pi$ to $\pi$)\\Time Series: T10B10 x WAGES-ALL to GDP\\1375-1403 (29 years) - Annually, Ref\#: 12 \& 23},
]
\addplot[heat] table[rows from index] {\phaseangle};
\addplot[coi line] table[x=x, y=f] {\coi};
\end{axis}
\end{tikzpicture}
\end{document}
